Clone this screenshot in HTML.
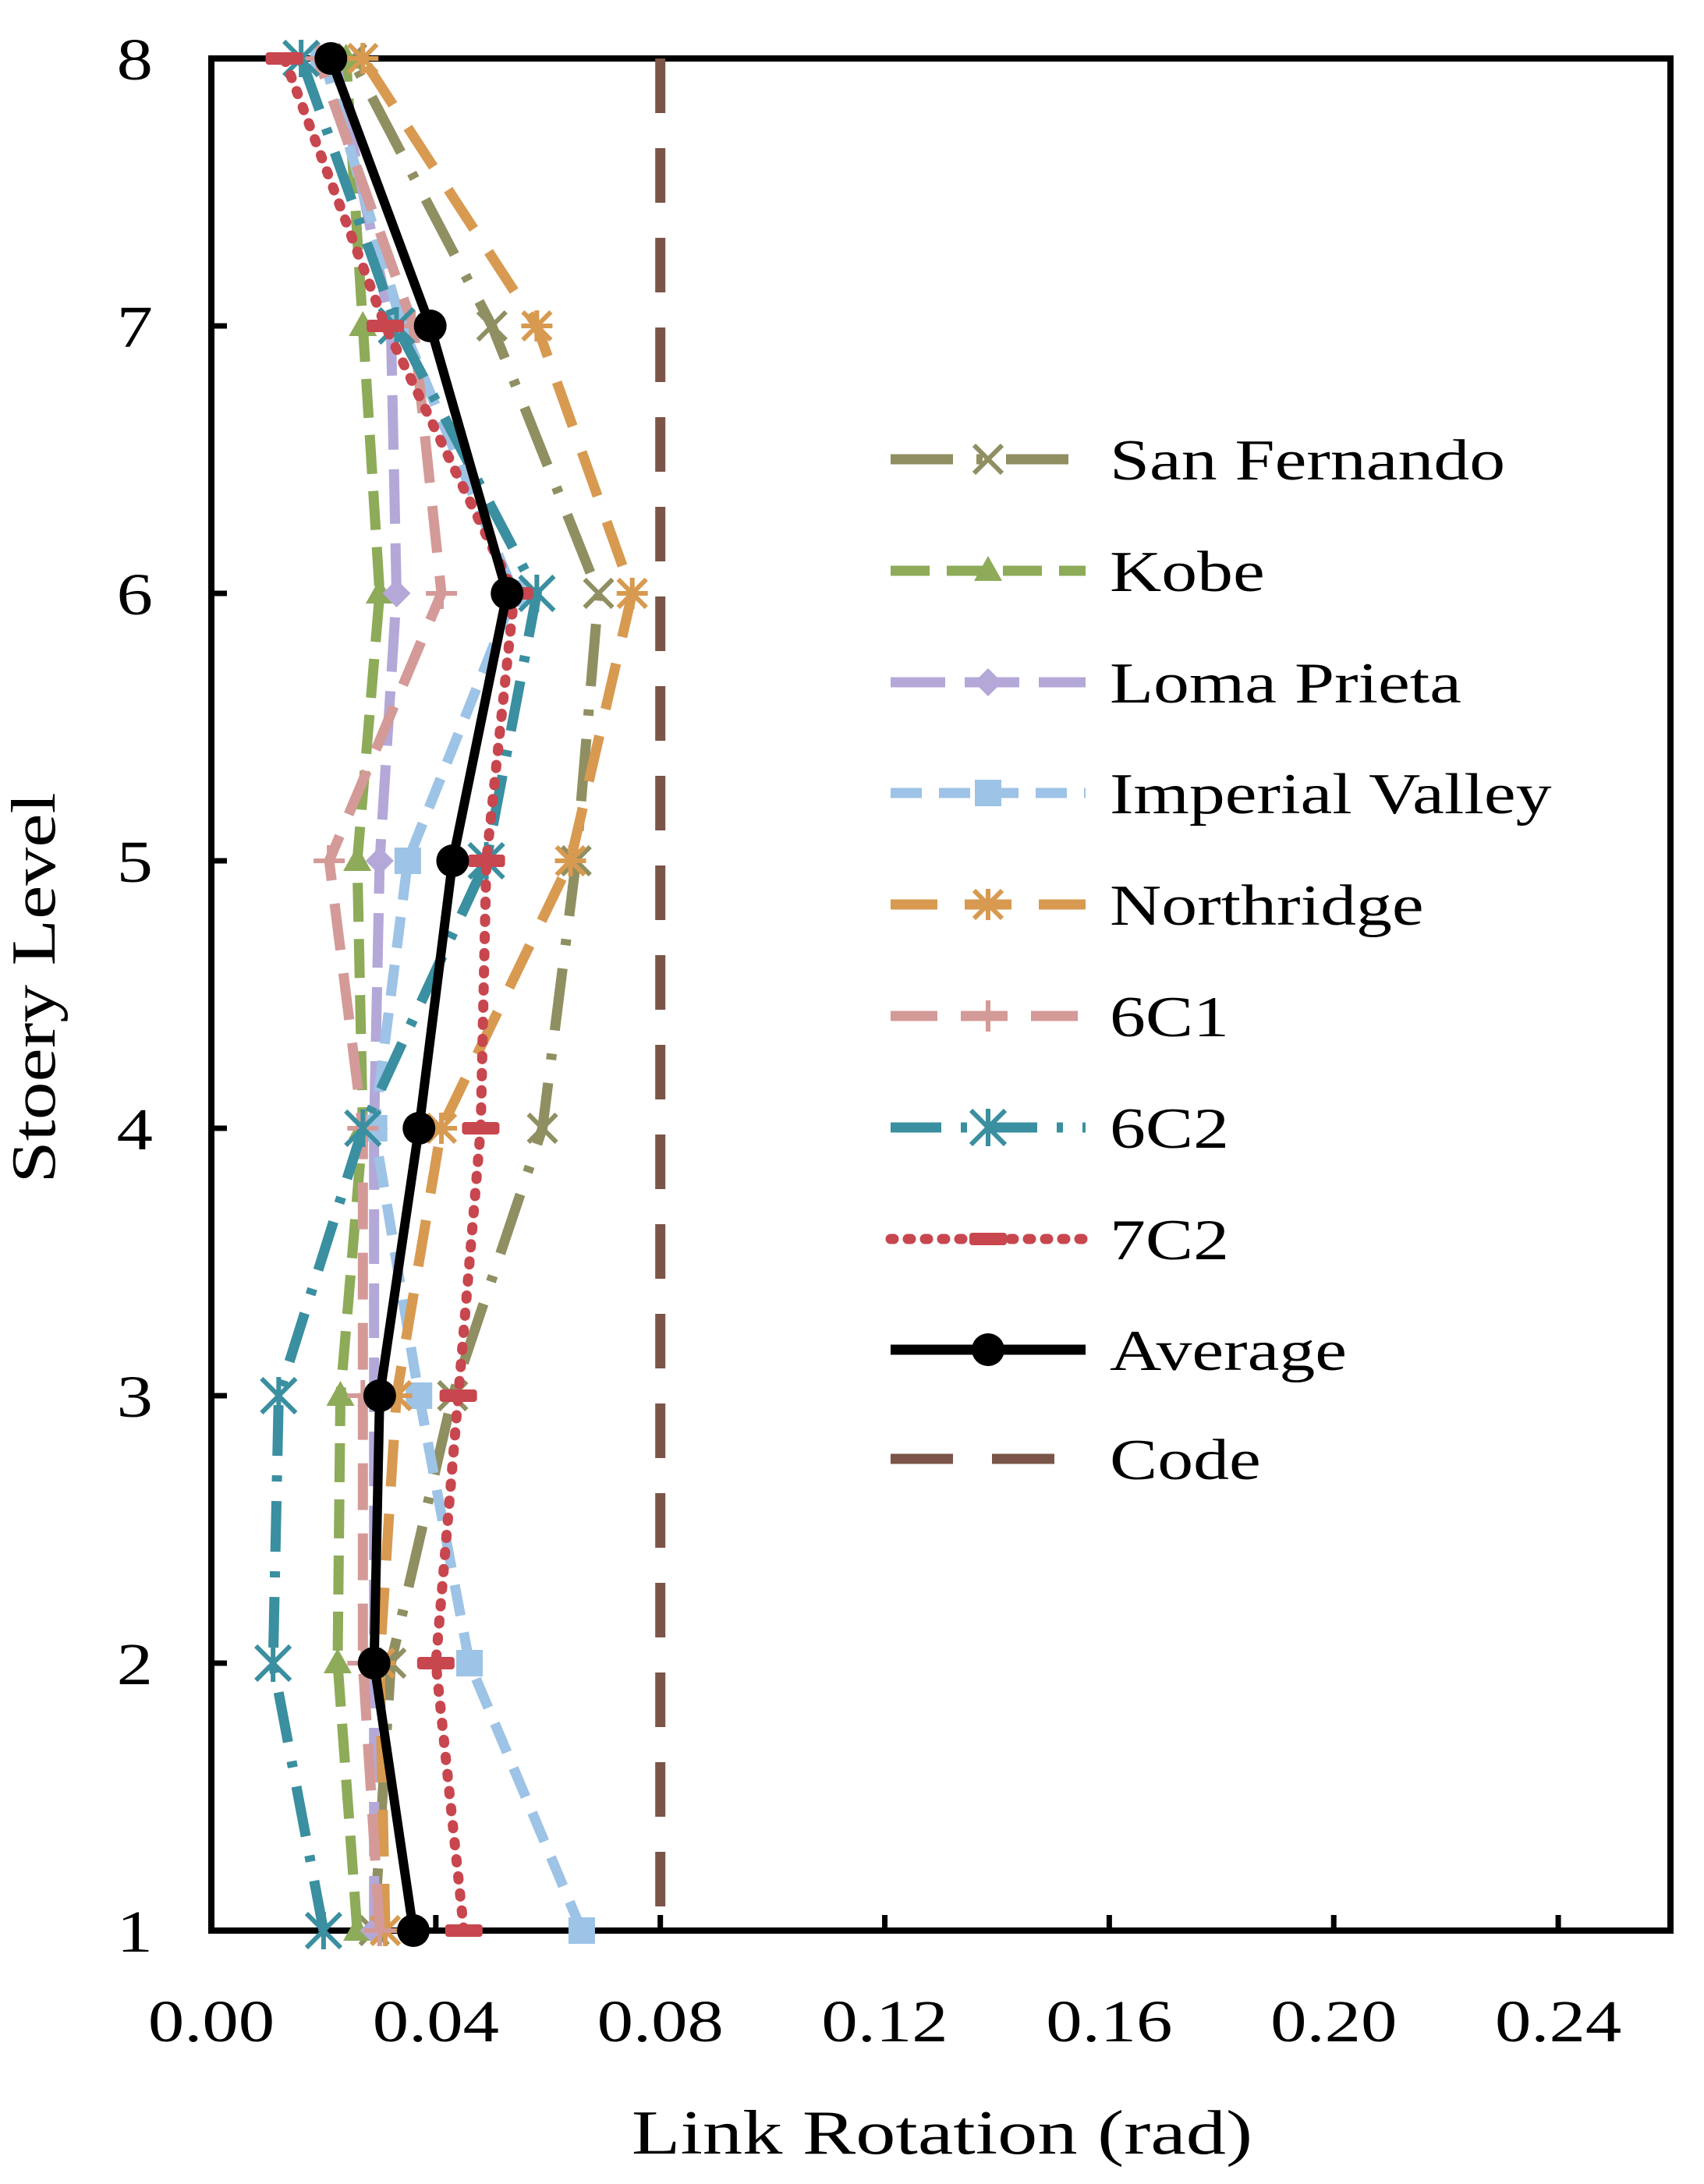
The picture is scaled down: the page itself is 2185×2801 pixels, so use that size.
<!DOCTYPE html>
<html><head><meta charset="utf-8"><style>
html,body{margin:0;padding:0;background:#fff;}
svg{display:block;font-family:"Liberation Serif",serif;}
</style></head><body>
<svg id="chart" width="2185" height="2801" viewBox="0 0 2185 2801" xmlns="http://www.w3.org/2000/svg"></svg>
<script>
const storeys = [1,2,3,4,5,6,7,8];
const xTicks = [0.00,0.04,0.08,0.12,0.16,0.20,0.24];
const xTickLabels = ["0.00","0.04","0.08","0.12","0.16","0.20","0.24"];
const yTickLabels = ["1","2","3","4","5","6","7","8"];
const seriesNames = ["San Fernando","Kobe","Loma Prieta","Imperial Valley","Northridge","6C1","6C2","7C2","Average","Code"];
const sanFernando = [0.029,0.032,0.043,0.059,0.065,0.069,0.050,0.025];
const kobe = [0.026,0.0225,0.023,0.027,0.026,0.030,0.027,0.024];
const lomaPrieta = [0.029,0.029,0.029,0.029,0.030,0.033,0.032,0.022];
const imperialValley = [0.066,0.046,0.037,0.029,0.035,0.054,0.034,0.020];
const northridge = [0.031,0.030,0.033,0.041,0.064,0.075,0.058,0.027];
const s6C1 = [0.030,0.027,0.027,0.027,0.021,0.041,0.036,0.019];
const s6C2 = [0.020,0.011,0.012,0.027,0.049,0.058,0.033,0.016];
const s7C2 = [0.045,0.040,0.044,0.048,0.049,0.054,0.031,0.013];
const average = [0.036,0.029,0.030,0.037,0.043,0.0527,0.039,0.0213];
const codeLimit = 0.08;

const L=271, R=2142, T=75, B=2476, XMAX=0.26;
const xs = v => L + v/XMAX*(R-L);
const ys = s => B - (s-1)/7*(B-T);
const NS="http://www.w3.org/2000/svg";
const svg=document.getElementById('chart');
function mk(tag, attrs, parent){const e=document.createElementNS(NS,tag);for(const k in attrs)e.setAttribute(k,attrs[k]);(parent||svg).appendChild(e);return e;}
function txt(str,x,y,size,anchor,sx,parent,extra){
 const e=mk('text',{x:0,y:0,'text-anchor':anchor,'font-size':size,fill:"#000",transform:`translate(${x},${y}) ${extra||''} scale(${sx},1)`},parent);
 e.textContent=str;return e;
}

const styles = [
 {data:sanFernando,color:"#8f8f62",dash:"80 30 8 30",marker:"x",name:"san-fernando"},
 {data:kobe,color:"#8dab58",dash:"50 22",marker:"tri",name:"kobe"},
 {data:lomaPrieta,color:"#b4a8d8",dash:"70 25",marker:"dia",name:"loma-prieta"},
 {data:imperialValley,color:"#9dc3e6",dash:"40 22",marker:"sq",name:"imperial-valley"},
 {data:northridge,color:"#d89a50",dash:"60 35",marker:"ast",name:"northridge"},
 {data:s6C1,color:"#d49a98",dash:"60 30",marker:"plus",name:"6c1"},
 {data:s6C2,color:"#3a8fa0",dash:"65 25 8 25",marker:"star",name:"6c2"},
 {data:s7C2,color:"#c8464e",dash:"4 18",marker:"dash",name:"7c2",cap:"round"},
 {data:average,color:"#000000",dash:"none",marker:"dot",name:"average"}
];

function marker(g,type,x,y,c){
 const w=6;
 if(type==="x"){mk('path',{d:`M${x-18} ${y-18}L${x+18} ${y+18}M${x-18} ${y+18}L${x+18} ${y-18}`,stroke:c,'stroke-width':w},g);}
 else if(type==="tri"){mk('path',{d:`M${x} ${y-19}L${x+18} ${y+13}L${x-18} ${y+13}Z`,fill:c},g);}
 else if(type==="dia"){mk('path',{d:`M${x} ${y-18}L${x+18} ${y}L${x} ${y+18}L${x-18} ${y}Z`,fill:c},g);}
 else if(type==="sq"){mk('rect',{x:x-17,y:y-17,width:34,height:34,fill:c},g);}
 else if(type==="ast"){mk('path',{d:`M${x-18} ${y-18}L${x+18} ${y+18}M${x-18} ${y+18}L${x+18} ${y-18}M${x} ${y-20}L${x} ${y+20}M${x-20} ${y}L${x+20} ${y}`,stroke:c,'stroke-width':w},g);}
 else if(type==="plus"){mk('path',{d:`M${x-20} ${y}L${x+20} ${y}M${x} ${y-20}L${x} ${y+20}`,stroke:c,'stroke-width':w},g);}
 else if(type==="star"){mk('path',{d:`M${x-22} ${y-22}L${x+22} ${y+22}M${x-22} ${y+22}L${x+22} ${y-22}M${x} ${y-24}L${x} ${y+24}`,stroke:c,'stroke-width':w},g);}
 else if(type==="dash"){mk('rect',{x:x-24,y:y-8,width:48,height:16,rx:4,fill:c},g);}
 else if(type==="dot"){mk('circle',{cx:x,cy:y,r:21,fill:c},g);}
}

const axes = mk('g',{});


mk('rect',{x:L,y:T,width:R-L,height:B-T,fill:"none",stroke:"#000","stroke-width":8},axes);
xTicks.forEach((v,i)=>{
 const t=mk('line',{x1:xs(v),x2:xs(v),y1:B,y2:B-20,stroke:"#000","stroke-width":7});
 
 
 const lb=txt(xTickLabels[i],xs(v),2618,76,'middle',1.22);
 
 
});
storeys.forEach((s,i)=>{
 const t=mk('line',{x1:L,x2:L+20,y1:ys(s),y2:ys(s),stroke:"#000","stroke-width":7});
 
 
 const lb=txt(yTickLabels[i],196,ys(s)+27,76,'end',1.22);
 
 
});
const xt=txt("Link Rotation (rad)",1208,2762,80,'middle',1.28);


const yt=mk('text',{x:0,y:0,'text-anchor':'middle','font-size':80,fill:"#000",transform:"translate(70,1267) rotate(-90) scale(1.22,1)"});
yt.textContent="Stoery Level";



const code=mk('line',{x1:xs(codeLimit),x2:xs(codeLimit),y1:T,y2:B,stroke:"#7a5548","stroke-width":13,"stroke-dasharray":"70 45"});



styles.forEach(st=>{
 const g=mk('g',{});
 
 
 const pts=st.data.map((v,i)=>xs(v)+","+ys(storeys[i])).join(" ");
 mk('polyline',{points:pts,fill:"none",stroke:st.color,"stroke-width":st.name==="average"?12:13,"stroke-dasharray":st.dash,"stroke-linecap":st.cap||"butt","stroke-linejoin":"round"},g);
 st.data.forEach((v,i)=>marker(g,st.marker,xs(v),ys(storeys[i]),st.color));
});

const leg=mk('g',{});


const rows=[589,732,875,1017,1160,1303,1446,1589,1731,1871];
const legStyles=styles.concat([{color:"#7a5548",dash:"70 45",marker:null,name:"code"}]);
legStyles.forEach((st,i)=>{
 const g=mk('g',{},leg);
 
 
 const y=rows[i];
 mk('line',{x1:1142,x2:1392,y1:y,y2:y,stroke:st.color,"stroke-width":13,"stroke-dasharray":st.name==="code"?"80 50":st.dash,"stroke-linecap":st.cap||"butt"},g);
 if(st.marker) marker(g,st.marker,1267,y,st.color);
 txt(seriesNames[i],1423,y+26,74,'start',1.24,g);
});
</script>
</body></html>
